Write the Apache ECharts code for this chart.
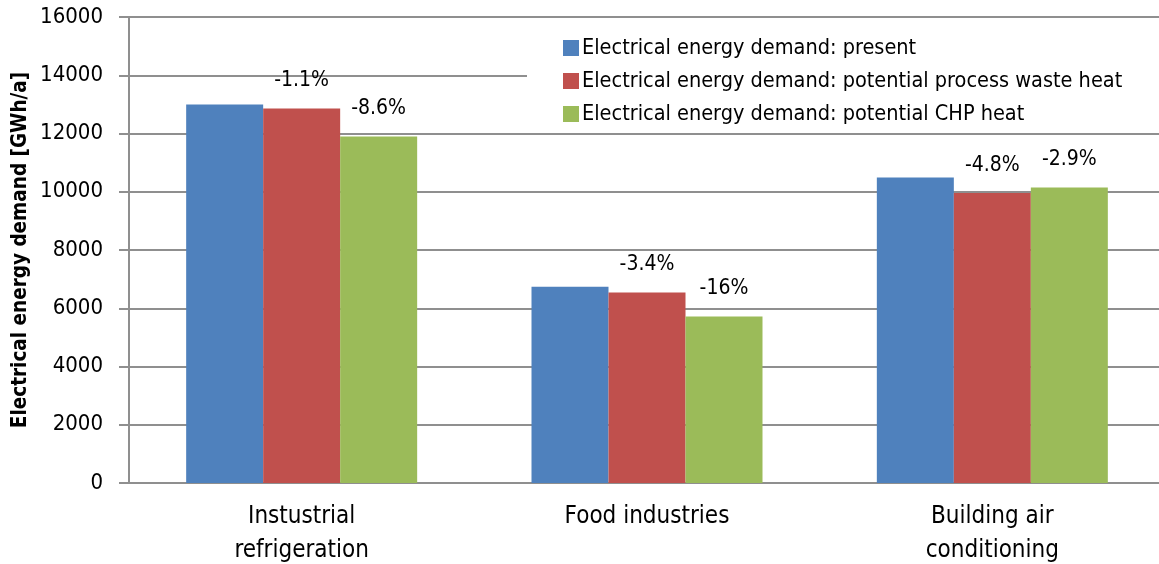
<!DOCTYPE html>
<html>
<head>
<meta charset="utf-8">
<script src="https://cdn.jsdelivr.net/npm/echarts@6/dist/echarts.min.js"></script>
<style>
html,body{margin:0;padding:0;background:#fff;}
#chart{width:1159px;height:564px;}
</style>
</head>
<body>
<div id="chart"></div>
<script>
var categories = ['Instustrial\nrefrigeration', 'Food industries', 'Building air\nconditioning'];
var seriesNames = [
  'Electrical energy demand: present',
  'Electrical energy demand: potential process waste heat',
  'Electrical energy demand: potential CHP heat'
];
var presentValues = [13000, 6740, 10490];
var wasteHeatValues = [12860, 6540, 9960];
var chpHeatValues = [11900, 5720, 10150];
var wasteHeatLabels = ['-1.1%', '-3.4%', '-4.8%'];
var chpHeatLabels = ['-8.6%', '-16%', '-2.9%'];
var yTicks = [0, 2000, 4000, 6000, 8000, 10000, 12000, 14000, 16000];

var FONT = "'DejaVu Sans Condensed', 'Liberation Sans Narrow', 'Roboto', sans-serif";
var colors = ['#4F81BD', '#C0504D', '#9BBB59'];
var gridColor = '#8f8f8f';

var chart = echarts.init(document.getElementById('chart'), null, {renderer: 'canvas'});

function labelFrom(arr) {
  return {
    show: true,
    position: 'top',
    distance: 17,
    color: '#000',
    fontFamily: FONT,
    fontSize: 21,
    formatter: function (p) { return arr[p.dataIndex]; }
  };
}

var option = {
  animation: false,
  backgroundColor: '#fff',
  color: colors,
  textStyle: {fontFamily: FONT},
  grid: {left: 129, top: 17, width: 1036, height: 466, containLabel: false, outerBoundsMode: 'none'},
  legend: {
    orient: 'vertical',
    left: 527,
    top: 31,
    padding: [6, 44, 8, 36],
    backgroundColor: '#fff',
    itemWidth: 16,
    itemHeight: 16,
    itemGap: 11,
    icon: 'rect',
    textStyle: {fontFamily: FONT, fontSize: 21.5, color: '#000', padding: [0, 0, 0, -2]},
    data: seriesNames,
    z: 10
  },
  xAxis: {
    type: 'category',
    data: categories,
    axisLine: {show: true, lineStyle: {color: gridColor, width: 2}},
    axisTick: {show: false},
    axisLabel: {
      fontFamily: FONT,
      fontSize: 24,
      color: '#000',
      lineHeight: 34,
      margin: 17
    }
  },
  yAxis: {
    type: 'value',
    min: yTicks[0],
    max: yTicks[yTicks.length - 1],
    interval: yTicks[1] - yTicks[0],
    name: 'Electrical energy demand [GWh/a]',
    nameLocation: 'middle',
    nameGap: 98,
    nameMoveOverlap: false,
    nameTextStyle: {fontFamily: FONT, fontSize: 20.5, fontWeight: 'bold', color: '#000'},
    axisLine: {show: true, lineStyle: {color: gridColor, width: 2}},
    axisTick: {show: true, inside: false, length: 10, lineStyle: {color: gridColor, width: 2}},
    axisLabel: {
      fontFamily: FONT, fontSize: 22, color: '#000', margin: 26,
      formatter: function (v) { return String(v); }
    },
    splitLine: {show: true, lineStyle: {color: gridColor, width: 2}}
  },
  series: [
    {name: seriesNames[0], type: 'bar', data: presentValues, barWidth: 77, barGap: '0%', itemStyle: {color: colors[0]}},
    {name: seriesNames[1], type: 'bar', data: wasteHeatValues, barWidth: 77, barGap: '0%', itemStyle: {color: colors[1]}, label: labelFrom(wasteHeatLabels)},
    {name: seriesNames[2], type: 'bar', data: chpHeatValues, barWidth: 77, barGap: '0%', itemStyle: {color: colors[2]}, label: labelFrom(chpHeatLabels)}
  ]
};
chart.setOption(option);
</script>
</body>
</html>
